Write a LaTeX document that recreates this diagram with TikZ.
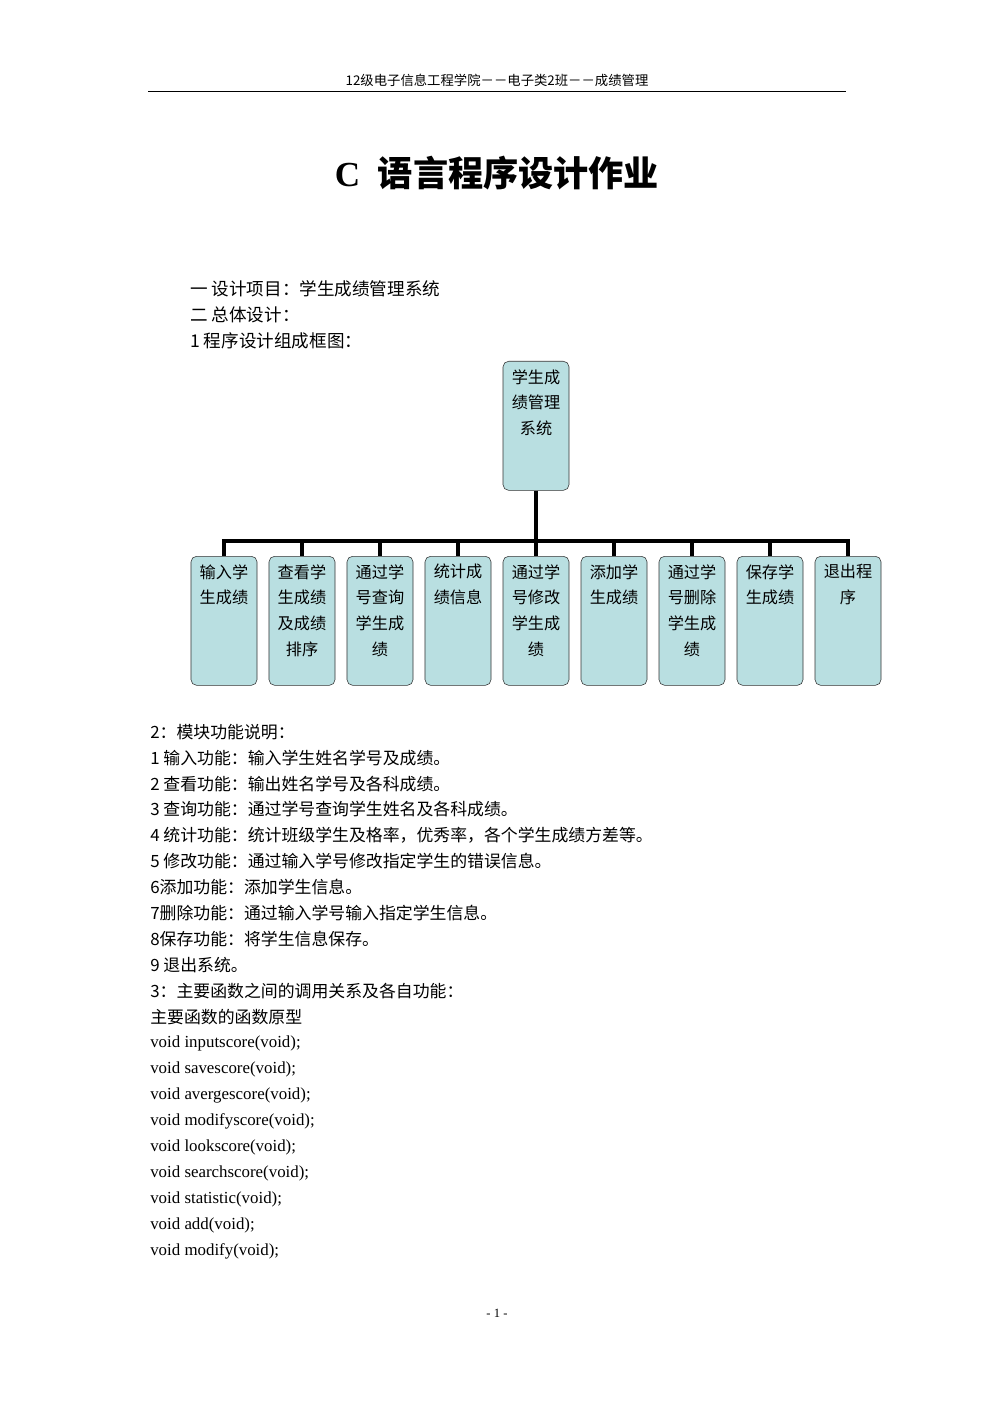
\documentclass[tikz,border=0pt]{standalone}
\usepackage{fontspec}
\setmainfont{Liberation Serif}
\newfontfamily\cjk{Noto Sans CJK SC}
\begin{document}
\begin{tikzpicture}[x=0.025cm,y=-0.025cm]
			\tikzstyle{kasten}=[draw=black!80,fill={rgb,255:red,185;green,223;blue,225},rounded corners=4pt,minimum width=1.65cm,minimum height=3.225cm,anchor=north,inner sep=0pt]
			\tikzstyle{schrift}=[anchor=north,align=center,font=\cjk\fontsize{11.5}{18.4}\selectfont,inner sep=0pt]
			\tikzstyle{zeile}=[anchor=west,inner sep=0pt,font=\fontsize{12}{14}\selectfont]
			\tikzstyle{ast}=[line width=3pt]
			\def\NiveauWurzel{361}
			\def\NiveauKinder{556}
			\def\NiveauAst{541}
			\useasboundingbox (0,0) rectangle (993,1404);
			\fill[white] (0,0) rectangle (993,1404);
			% Kopfzeile
			\node[inner sep=0pt,font=\cjk\fontsize{9.5}{11}\selectfont] (kopf) at (497,80) {12级电子信息工程学院－－电子类2班－－成绩管理};
			\coordinate (kopfL) at (148,91);
			\coordinate (kopfR) at (846,91);
			\draw[line width=0.6pt] (kopfL)--(kopfR);
			\node[inner sep=0pt,font=\fontsize{25}{30}\selectfont\bfseries] (titel) at (497,173) {C\ \ {\cjk 语言程序设计作业}};
			\node[zeile,font=\cjk\fontsize{12.5}{14}\selectfont] (z1) at (190,289) {一\ 设计项目：学生成绩管理系统};
			\node[zeile,font=\cjk\fontsize{12.5}{14}\selectfont] (z2) at (190,315) {二\ 总体设计：};
			\node[zeile,font=\cjk\fontsize{12.5}{14}\selectfont] (z3) at (190,341) {1\ 程序设计组成框图：};
			% Baum
			\node[kasten] (W) at (536,\NiveauWurzel) {};
			\node[schrift] (Wt) at (536,{\NiveauWurzel+8}) {学生成\\绩管理\\系统};
			\coordinate (Wa) at (536,\NiveauAst);
			\draw[ast] (W.south)--(Wa);
			\foreach \x/\n/\t in {224/K1/{输入学\\生成绩},302/K2/{查看学\\生成绩\\及成绩\\排序},380/K3/{通过学\\号查询\\学生成\\绩},458/K4/{统计成\\绩信息},536/K5/{通过学\\号修改\\学生成\\绩},614/K6/{添加学\\生成绩},692/K7/{通过学\\号删除\\学生成\\绩},770/K8/{保存学\\生成绩},848/K9/{退出程\\序}}{
				\node[kasten] (\n) at (\x,\NiveauKinder) {};
				\node[schrift] (\n t) at (\x,{\NiveauKinder+8}) {\t};
				\coordinate (\n a) at (\x,\NiveauAst);
				\draw[ast] (\n a)--(\n.north);
			}
			\draw[ast] ([xshift=-1.5pt]K1a)--([xshift=1.5pt]K9a);
			% Text
			\foreach \y/\t [count=\i] in {732/{2：模块功能说明：},758/{1\ 输入功能：输入学生姓名学号及成绩。},784/{2\ 查看功能：输出姓名学号及各科成绩。},809/{3\ 查询功能：通过学号查询学生姓名及各科成绩。},835/{4\ 统计功能：统计班级学生及格率，优秀率，各个学生成绩方差等。},861/{5\ 修改功能：通过输入学号修改指定学生的错误信息。},887/{6添加功能：添加学生信息。},913/{7删除功能：通过输入学号输入指定学生信息。},939/{8保存功能：将学生信息保存。},965/{9\ 退出系统。},991/{3：主要函数之间的调用关系及各自功能：},1017/{主要函数的函数原型}}{
				\node[zeile,font=\cjk\fontsize{12}{14}\selectfont] (t\i) at (150,\y) {\t};
			}
			\foreach \y/\t [count=\i] in {1043/{void inputscore(void);},1069/{void savescore(void);},1095/{void avergescore(void);},1121/{void modifyscore(void);},1147/{void lookscore(void);},1173/{void searchscore(void);},1199/{void statistic(void);},1225/{void add(void);},1251/{void modify(void);}}{
				\node[zeile] (c\i) at (150,\y) {\t};
			}
			\node[inner sep=0pt,font=\fontsize{9}{11}\selectfont] (seite) at (497,1313) {- 1 -};
		\end{tikzpicture}
\end{document}
